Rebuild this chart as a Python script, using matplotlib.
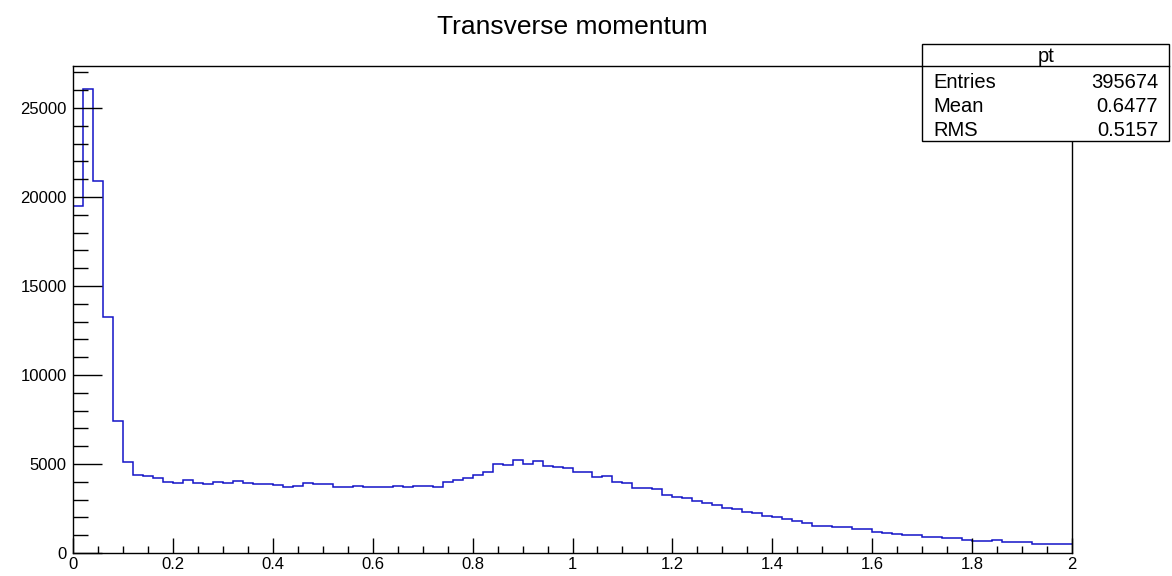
import numpy as np
import matplotlib
matplotlib.use("Agg")
import matplotlib.pyplot as plt
from matplotlib.patches import Rectangle
from matplotlib.lines import Line2D
from matplotlib.ticker import MultipleLocator

plt.rcParams['font.family'] = ['Liberation Sans', 'DejaVu Sans']

# pt histogram, 100 bins over [0, 2]
n_bins = 100
pt_range = (0.0, 2.0)
pt_counts = [
    19490, 26060, 20900, 13260, 7420, 5100, 4400, 4340, 4190, 4010,
    3950, 4080, 3950, 3860, 4010, 3910, 4030, 3910, 3860, 3900,
    3840, 3700, 3780, 3910, 3860, 3860, 3730, 3730, 3790, 3730,
    3730, 3730, 3790, 3730, 3780, 3780, 3720, 3970, 4080, 4230,
    4390, 4570, 5010, 4940, 5230, 5000, 5190, 4870, 4830, 4780,
    4570, 4570, 4290, 4340, 4010, 3950, 3670, 3670, 3580, 3280,
    3130, 3070, 2900, 2830, 2690, 2520, 2460, 2290, 2240, 2070,
    2020, 1900, 1800, 1680, 1530, 1530, 1450, 1450, 1350, 1350,
    1190, 1110, 1060, 1020, 1020, 910, 910, 870, 870, 710,
    690, 690, 730, 600, 600, 600, 530, 480, 480, 480,
]
title = "Transverse momentum"
stats_name = "pt"
stats_labels = ["Entries", "Mean", "RMS"]
stats_values = ["395674", "0.6477", "0.5157"]

W, H = 1172, 576
fig = plt.figure(figsize=(W / 100, H / 100), dpi=100)
fig.patch.set_facecolor("white")

def fx(px):
    return px / W

def fy(py):
    return 1 - py / H

ax = fig.add_axes([fx(73), fy(553), fx(1072) - fx(73), fy(66) - fy(553)])
edges = np.linspace(pt_range[0], pt_range[1], n_bins + 1)
ax.stairs(pt_counts, edges, color="#1414c8", lw=1.1, baseline=None)
ax.set_xlim(*pt_range)
ax.set_ylim(0, max(pt_counts) * 1.05)

for s in ax.spines.values():
    s.set_linewidth(1.0)
    s.set_color("black")

ax.xaxis.set_major_locator(MultipleLocator(0.2))
ax.xaxis.set_minor_locator(MultipleLocator(0.05))
ax.yaxis.set_major_locator(MultipleLocator(5000))
ax.yaxis.set_minor_locator(MultipleLocator(1000))
ax.xaxis.set_major_formatter(plt.FuncFormatter(lambda v, p: f"{v:g}"))

ax.tick_params(axis="x", which="major", direction="in", length=10.8, width=1,
               pad=3, labelsize=12, top=False)
ax.tick_params(axis="x", which="minor", direction="in", length=5.4, width=1, top=False)
ax.tick_params(axis="y", which="major", direction="in", length=21, width=1,
               pad=4.5, labelsize=12, right=False)
ax.tick_params(axis="y", which="minor", direction="in", length=10.5, width=1, right=False)

fig.text(fx(572), fy(27.5), title, ha="center", va="center", fontsize=19)

# statistics box
box = Rectangle((fx(922), fy(141)), fx(1169) - fx(922), fy(44) - fy(141),
                transform=fig.transFigure, facecolor="white", edgecolor="black",
                lw=1, zorder=5)
fig.add_artist(box)
fig.add_artist(Line2D([fx(922), fx(1169)], [fy(66), fy(66)],
                      transform=fig.transFigure, color="black", lw=1, zorder=6))
fig.text(fx(1046), fy(56), stats_name, ha="center", va="center", fontsize=14.5, zorder=7)
for i, (lab, val) in enumerate(zip(stats_labels, stats_values)):
    y = fy(83 + i * 23.5)
    fig.text(fx(933), y, lab, ha="left", va="center", fontsize=14.5, zorder=7)
    fig.text(fx(1158), y, val, ha="right", va="center", fontsize=14.5, zorder=7)

fig.savefig("out.png", dpi=100)
